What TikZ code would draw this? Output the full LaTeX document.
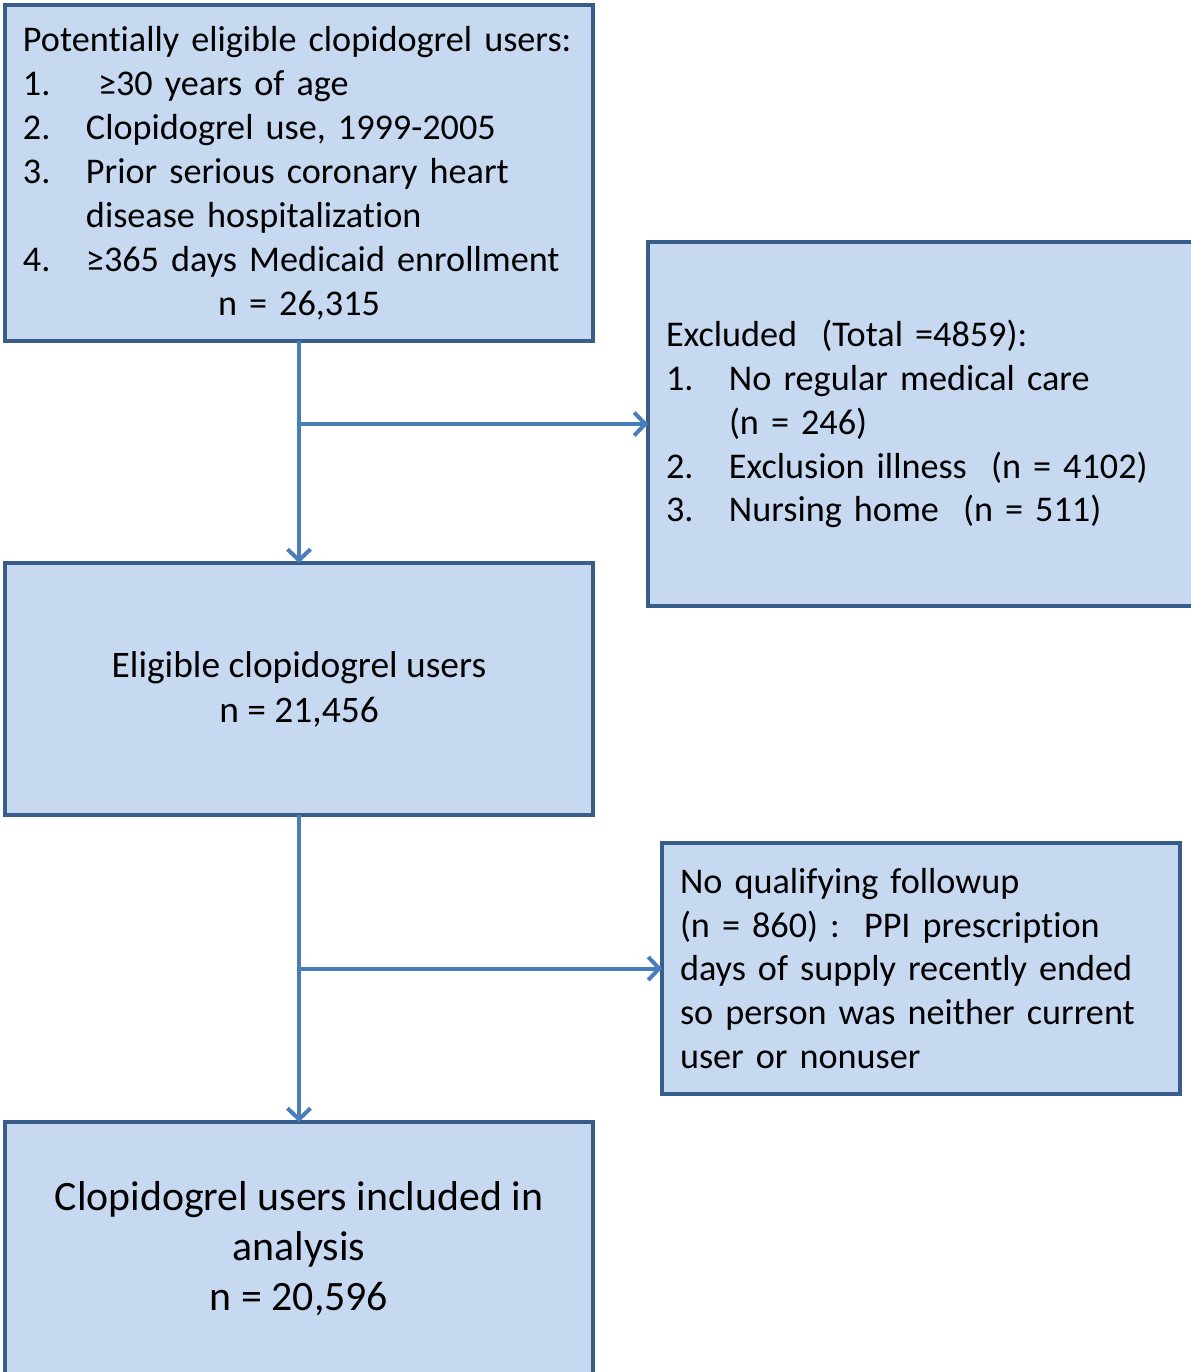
\documentclass[tikz,border=0pt]{standalone}
\usepackage{fontspec}
\setmainfont{Carlito}[Ligatures=NoCommon]
\usetikzlibrary{positioning,arrows.meta}
\definecolor{cajafondo}{HTML}{C6D9F1}
\definecolor{cajaborde}{HTML}{385D8A}
\definecolor{flecha}{HTML}{4A7EBB}
\newcommand{\itemnum}[2]{\makebox[1.26cm][l]{#1}#2} %numero y texto de la lista

\begin{document}
\begin{tikzpicture}[caja/.style={draw=cajaborde,fill=cajafondo,line width=0.08cm,outer sep=0pt,inner xsep=0.36cm,font=\fontsize{20.6}{25}\selectfont},
    flujo/.style={draw=flecha,line width=0.08cm,-{Straight Barb[length=2.2mm,width=4.6mm]}}] %estilos de las cajas y flechas
    \useasboundingbox (0,0) rectangle (23.82,-27.44); %tamano fijo del dibujo

    %Las cajas del diagrama
    \node[caja,minimum height=6.72cm,text width=11.04cm,align=left] (elegibles) at (5.98,-3.46) {Potentially eligible clopidogrel users:\\
        \itemnum{1.}{\ ≥30 years of age}\\
        \itemnum{2.}{Clopidogrel use, 1999-2005}\\
        \itemnum{3.}{Prior serious coronary heart}\\
        \hspace*{1.26cm}disease hospitalization\\
        \itemnum{4.}{≥365 days Medicaid enrollment}\\
        \makebox[11.04cm]{n = 26,315}};
    \node[caja,minimum width=11.76cm,minimum height=5.04cm,align=center,below=4.44cm of elegibles,font=\fontsize{21.3}{25.5}\selectfont] (usuarios) {Eligible clopidogrel users\\ n = 21,456};
    \node[caja,minimum width=11.76cm,minimum height=5.06cm,align=center,below=6.14cm of usuarios,font=\fontsize{23.8}{28.5}\selectfont] (analisis) {Clopidogrel users included in\\ analysis\\ n = 20,596};
    \node[caja,minimum height=7.28cm,text width=10.18cm,align=left] (excluidos) at (18.41,-8.48) {Excluded\ \ (Total =4859):\\
        \itemnum{1.}{No regular medical care}\\
        \hspace*{1.26cm}(n = 246)\\
        \itemnum{2.}{Exclusion illness\ \ (n = 4102)}\\
        \itemnum{3.}{Nursing home\ \ (n = 511)}};
    \node[caja,minimum height=5.02cm,text width=9.64cm,align=left] (seguimiento) at (18.42,-19.37) {No qualifying followup\\
        (n = 860) :\ \ PPI prescription\\
        days of supply recently ended\\
        so person was neither current\\
        user or nonuser};

    %Puntos donde salen las ramas
    \coordinate (rama1) at (elegibles.south |- excluidos.west);
    \coordinate (rama2) at (usuarios.south |- seguimiento.west);

    %Flechas
    \draw[flujo] (elegibles) -- (usuarios);
    \draw[flujo] (usuarios) -- (analisis);
    \draw[flujo] (rama1) -- (excluidos.west);
    \draw[flujo] (rama2) -- (seguimiento.west);
\end{tikzpicture}
\end{document}
